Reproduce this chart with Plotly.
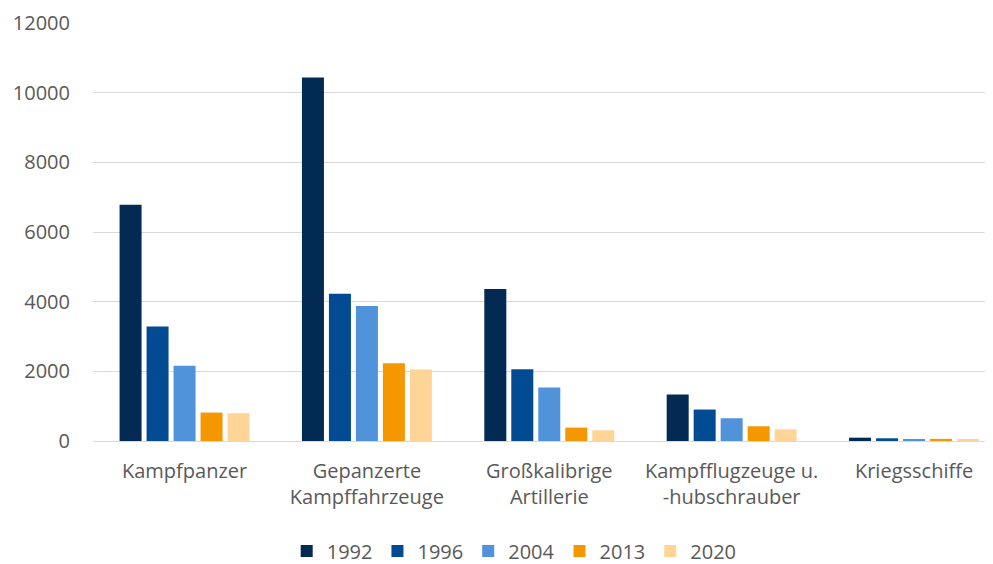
import plotly.graph_objects as go

categories = ["Kampfpanzer", "Gepanzerte<br>Kampffahrzeuge", "Großkalibrige<br>Artillerie",
              "Kampfflugzeuge u.<br>-hubschrauber", "Kriegsschiffe"]
years = ["1992", "1996", "2004", "2013", "2020"]
v1992 = [6779, 10437, 4362, 1334, 95]
v1996 = [3289, 4227, 2062, 903, 78]
v2004 = [2157, 3873, 1535, 653, 57]
v2013 = [816, 2234, 385, 423, 60]
v2020 = [796, 2052, 308, 336, 40]
series = [v1992, v1996, v2004, v2013, v2020]
colors = ["#022a52", "#024b92", "#5093db", "#f59700", "#fed597"]

fig = go.Figure()
for name, vals, col in zip(years, series, colors):
    fig.add_trace(go.Bar(x=categories, y=vals, name=name, marker=dict(color=col, line=dict(width=0))))

font = dict(family="Open Sans, Liberation Sans, sans-serif", size=20, color="#595959")
fig.update_layout(
    width=985, height=556,
    margin=dict(l=85, r=0, t=15, b=123, autoexpand=False),
    paper_bgcolor="white", plot_bgcolor="white",
    barmode="group", bargap=0.26, bargroupgap=0.185,
    font=font,
    legend=dict(orientation="h", x=0.468, xanchor="center", y=-0.263, yanchor="middle",
                font=dict(size=20, color="#595959"), itemwidth=30, traceorder="normal"),
    showlegend=True,
)
fig.update_yaxes(range=[0, 12000], dtick=2000, tickformat="d", showgrid=True, gridcolor="#d9d9d9",
                 gridwidth=1.3, zeroline=True, zerolinecolor="#d9d9d9", zerolinewidth=1.3, ticks="",
                 ticklabelstandoff=22, showline=False, automargin=False)
fig.update_xaxes(range=[-0.502, 4.433], showgrid=False, ticks="", showline=False,
                 ticklabelstandoff=16, automargin=False)
fig.write_html("out.html")
